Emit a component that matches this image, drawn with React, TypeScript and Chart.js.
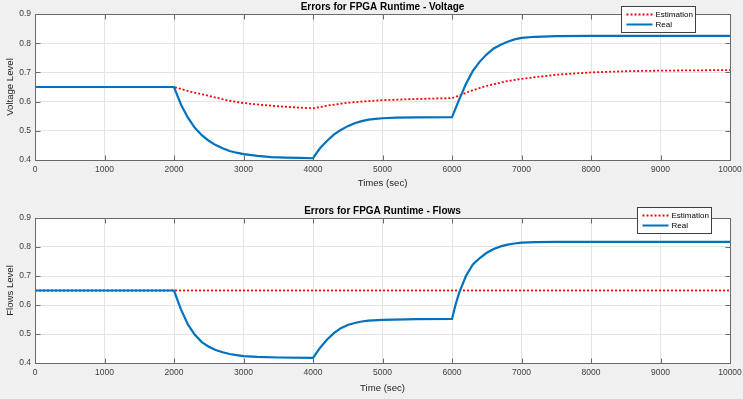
import React, { useEffect, useRef } from "react";
import { Chart, registerables } from "chart.js";

Chart.register(...registerables);

const FONT = '"Liberation Sans", Arial, Helvetica, sans-serif';

// tick labels
const timeTicks = [0, 1000, 2000, 3000, 4000, 5000, 6000, 7000, 8000, 9000, 10000];
const levelTicks = [0.4, 0.5, 0.6, 0.7, 0.8, 0.9];

// Voltage panel
const voltRealT = [0, 2000, 2100, 2200, 2300, 2400, 2500, 2600, 2700, 2800, 2900, 3000, 3200, 3400, 3600, 3800, 4000, 4100, 4200, 4300, 4400, 4500, 4600, 4700, 4800, 4900, 5000, 5200, 5500, 6000, 6100, 6200, 6300, 6400, 6500, 6600, 6700, 6800, 6900, 7000, 7200, 7500, 8000, 10000];
const voltRealV = [0.65, 0.65, 0.59, 0.545, 0.51, 0.485, 0.466, 0.451, 0.44, 0.431, 0.425, 0.42, 0.414, 0.41, 0.408, 0.407, 0.406, 0.44, 0.465, 0.487, 0.503, 0.516, 0.526, 0.533, 0.538, 0.541, 0.543, 0.545, 0.546, 0.547, 0.605, 0.66, 0.705, 0.737, 0.762, 0.782, 0.795, 0.805, 0.813, 0.818, 0.822, 0.824, 0.825, 0.825];
const voltEstT = [0, 2000, 2250, 2500, 2750, 3000, 3250, 3500, 3750, 4000, 4250, 4500, 4750, 5000, 5500, 6000, 6100, 6250, 6500, 6750, 7000, 7500, 8000, 8500, 9000, 9500, 10000];
const voltEstV = [0.65, 0.65, 0.633, 0.62, 0.605, 0.595, 0.589, 0.584, 0.58, 0.577, 0.588, 0.596, 0.601, 0.605, 0.609, 0.612, 0.62, 0.635, 0.654, 0.668, 0.678, 0.692, 0.7, 0.704, 0.706, 0.707, 0.708];

// Flows panel
const flowRealT = [0, 2000, 2100, 2200, 2300, 2400, 2500, 2600, 2700, 2800, 2900, 3000, 3200, 3500, 4000, 4100, 4200, 4300, 4400, 4500, 4600, 4700, 4800, 5000, 5500, 6000, 6050, 6100, 6200, 6300, 6400, 6500, 6600, 6700, 6800, 6900, 7000, 7200, 7500, 10000];
const flowRealV = [0.65, 0.65, 0.585, 0.533, 0.497, 0.472, 0.456, 0.445, 0.437, 0.431, 0.427, 0.424, 0.421, 0.419, 0.418, 0.452, 0.48, 0.503, 0.52, 0.531, 0.538, 0.543, 0.546, 0.549, 0.551, 0.552, 0.6, 0.64, 0.7, 0.74, 0.762, 0.78, 0.793, 0.802, 0.808, 0.812, 0.815, 0.817, 0.818, 0.818];
const flowEstT = [0, 10000];
const flowEstV = [0.65, 0.65];

const seriesLabels = ["Estimation", "Real"];
const estColor = "#ff0000";
const realColor = "#0072bd";

const zip = (t: number[], v: number[]) => t.map((x, i) => ({ x, y: v[i] }));

const decorPlugin = {
  id: "matlabDecor",
  beforeDraw(chart: any) {
    const { ctx, chartArea: a } = chart;
    ctx.save();
    ctx.fillStyle = "#ffffff";
    ctx.fillRect(a.left, a.top, a.right - a.left, a.bottom - a.top);
    ctx.restore();
  },
  afterDraw(chart: any, _args: any, opts: any) {
    const { ctx, chartArea: a, scales } = chart;
    ctx.save();
    const L = Math.round(a.left) + 0.5;
    const R = Math.round(a.right) + 0.5;
    const T = Math.round(a.top) + 0.5;
    const B = Math.round(a.bottom) + 0.5;
    ctx.strokeStyle = "#6a6a6a";
    ctx.lineWidth = 1;
    ctx.strokeRect(L, T, R - L, B - T);
    const tl = 5;
    ctx.beginPath();
    scales.x.ticks.forEach((t: any) => {
      const px = Math.round(scales.x.getPixelForValue(t.value)) + 0.5;
      ctx.moveTo(px, B);
      ctx.lineTo(px, B - tl);
      ctx.moveTo(px, T);
      ctx.lineTo(px, T + tl);
    });
    scales.y.ticks.forEach((t: any) => {
      const py = Math.round(scales.y.getPixelForValue(t.value)) + 0.5;
      ctx.moveTo(L, py);
      ctx.lineTo(L + tl, py);
      ctx.moveTo(R, py);
      ctx.lineTo(R - tl, py);
    });
    ctx.stroke();

    // title
    ctx.fillStyle = "#000000";
    ctx.font = `bold 10px ${FONT}`;
    ctx.textAlign = "center";
    ctx.textBaseline = "middle";
    ctx.fillText(opts.text, (a.left + a.right) / 2, opts.titleY);

    // legend
    const lx = Math.round(opts.legendX) + 0.5;
    const ly = Math.round(opts.legendY) + 0.5;
    const w = 74;
    const h = 26;
    ctx.fillStyle = "#ffffff";
    ctx.fillRect(lx, ly, w, h);
    ctx.strokeStyle = "#404040";
    ctx.lineWidth = 1;
    ctx.strokeRect(lx, ly, w, h);
    ctx.font = `8px ${FONT}`;
    ctx.textAlign = "left";
    chart.data.datasets.forEach((ds: any, i: number) => {
      const yy = ly + 8 + i * 10;
      ctx.beginPath();
      ctx.strokeStyle = ds.borderColor;
      ctx.lineWidth = 2;
      ctx.setLineDash(ds.borderDash || []);
      ctx.moveTo(lx + 5, yy);
      ctx.lineTo(lx + 31, yy);
      ctx.stroke();
      ctx.setLineDash([]);
      ctx.fillStyle = "#000000";
      ctx.fillText(ds.label, lx + 34, yy);
    });
    ctx.restore();
  },
};

type PanelProps = {
  top: number;
  height: number;
  plotTop: number;
  xAxisHeight: number;
  xTitle: string;
  xTitlePad: number;
  yTitle: string;
  title: string;
  titleY: number;
  legendX: number;
  legendY: number;
  estT: number[];
  estV: number[];
  realT: number[];
  realV: number[];
};

function Panel(p: PanelProps) {
  const ref = useRef<HTMLCanvasElement | null>(null);
  useEffect(() => {
    if (!ref.current) return;
    const chart = new Chart(ref.current, {
      type: "line",
      data: {
        datasets: [
          {
            label: seriesLabels[0],
            data: zip(p.estT, p.estV),
            borderColor: estColor,
            borderWidth: 1.8,
            borderDash: [2, 2],
            pointRadius: 0,
            tension: 0,
            order: 5,
          },
          {
            label: seriesLabels[1],
            data: zip(p.realT, p.realV),
            borderColor: realColor,
            borderWidth: 2.2,
            pointRadius: 0,
            tension: 0,
            order: 0,
          },
        ],
      },
      options: {
        animation: false,
        responsive: false,
        devicePixelRatio: 1,
        layout: { padding: { left: 0, right: 13, top: p.plotTop, bottom: 0 } },
        plugins: {
          legend: { display: false },
          title: { display: false },
          tooltip: { enabled: false },
          matlabDecor: { text: p.title, titleY: p.titleY, legendX: p.legendX, legendY: p.legendY },
        } as any,
        scales: {
          x: {
            type: "linear",
            min: 0,
            max: 10000,
            afterBuildTicks: (s: any) => {
              s.ticks = timeTicks.map((v) => ({ value: v }));
            },
            afterFit: (s: any) => {
              s.height = p.xAxisHeight;
              s.paddingLeft = 0;
              s.paddingRight = 0;
            },
            ticks: {
              autoSkip: false,
              maxRotation: 0,
              padding: 5,
              color: "#404040",
              font: { family: FONT, size: 8.5 },
              callback: (v: any) => String(v),
            },
            grid: { color: "#e4e4e4", drawTicks: false },
            border: { display: false },
            title: {
              display: true,
              text: p.xTitle,
              color: "#262626",
              font: { family: FONT, size: 9.6 },
              padding: { top: 0, bottom: p.xTitlePad },
            },
          },
          y: {
            type: "linear",
            min: 0.4,
            max: 0.9,
            afterBuildTicks: (s: any) => {
              s.ticks = levelTicks.map((v) => ({ value: v }));
            },
            afterFit: (s: any) => {
              s.width = 35;
              s.paddingTop = 0;
              s.paddingBottom = 0;
            },
            ticks: {
              padding: 4,
              color: "#404040",
              font: { family: FONT, size: 8.5 },
              callback: (v: any) => Number(v).toFixed(1),
            },
            grid: { color: "#e4e4e4", drawTicks: false },
            border: { display: false },
            title: {
              display: true,
              text: p.yTitle,
              color: "#262626",
              font: { family: FONT, size: 9.6 },
              padding: { top: 5, bottom: 0 },
            },
          },
        },
      },
      plugins: [decorPlugin as any],
    });
    return () => chart.destroy();
  }, []);
  return (
    <canvas
      ref={ref}
      width={743}
      height={p.height}
      style={{ position: "absolute", left: 0, top: p.top, width: 743, height: p.height, display: "block" }}
    />
  );
}

export default function App() {
  return (
    <div
      style={{
        position: "fixed",
        left: 0,
        top: 0,
        width: 743,
        height: 399,
        background: "#f0f0f0",
        overflow: "hidden",
      }}
    >
      <Panel
        top={0}
        height={200}
        plotTop={14}
        xAxisHeight={40}
        xTitle="Times (sec)"
        xTitlePad={10.7}
        yTitle="Voltage Level"
        title="Errors for FPGA Runtime - Voltage"
        titleY={7}
        legendX={620.5}
        legendY={6}
        estT={voltEstT}
        estV={voltEstV}
        realT={voltRealT}
        realV={voltRealV}
      />
      <Panel
        top={200}
        height={199}
        plotTop={18}
        xAxisHeight={36}
        xTitle="Time (sec)"
        xTitlePad={5.2}
        yTitle="Flows Level"
        title="Errors for FPGA Runtime - Flows"
        titleY={11}
        legendX={636.5}
        legendY={6.5}
        estT={flowEstT}
        estV={flowEstV}
        realT={flowRealT}
        realV={flowRealV}
      />
    </div>
  );
}
